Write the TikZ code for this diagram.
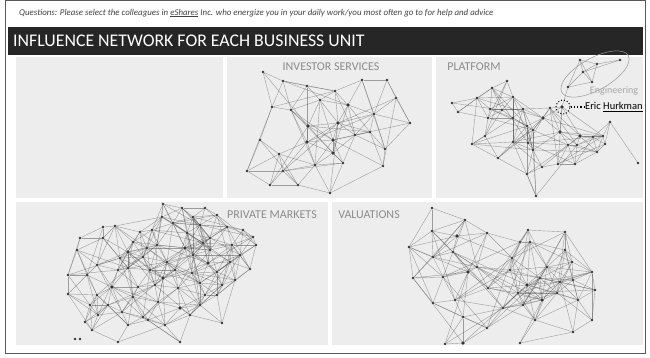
\documentclass[tikz,border=0pt]{standalone}
\usepackage{fontspec}
\setmainfont{Carlito}
\usepackage{tikz}
\usetikzlibrary{shapes.geometric}
\definecolor{panelgrey}{RGB}{237,237,237}
\definecolor{bargrey}  {RGB}{38,38,38}
\definecolor{labelgrey}{RGB}{140,140,140}

% node lists: id/x/y/weight (1 = person, 2 = hub)
\newcommand{\islist}{1/263/72/1, 2/283/81/1, 3/307/86/1, 4/335/91/1, 5/362/80/1, 6/387/80/1,
  7/396/98/1, 8/272/107/1, 9/291/110/1, 10/348/105/2, 11/374/114/1, 12/410/123/1, 13/308/126/2,
  14/338/123/2, 15/370/132/1, 16/260/140/1, 17/307/142/2, 18/333/140/2, 19/279/154/1, 20/333/153/2,
  21/385/149/1, 22/247/171/1, 23/283/171/1, 24/343/163/1, 25/383/166/1, 26/270/185/1, 27/298/185/1,
  28/330/193/1, 29/315/165/1, 30/355/135/1, 31/320/100/1}
\newcommand{\pflist}{1/452/103/1, 2/458/112/1, 3/477/98/1, 4/492/88/1, 5/507/81/1, 6/513/97/1,
  7/490/109/1, 8/502/110/1, 9/523/109/1, 10/488/118/1, 11/513/118/1, 12/543/118/2, 13/550/108/1,
  14/527/126/1, 15/533/130/1, 16/485/136/1, 17/472/144/1, 18/513/142/1, 19/528/143/1, 20/560/132/2,
  21/580/136/2, 22/593/137/1, 23/610/122/1, 24/603/136/1, 25/568/145/1, 26/577/145/1, 27/605/144/1,
  28/597/152/1, 29/533/150/1, 30/498/158/1, 31/542/167/1, 32/558/164/1, 33/575/164/1, 34/527/174/1,
  35/638/163/1, 36/536/196/1, 37/562/107/2}
\newcommand{\enlist}{1/568/87/1, 2/583/72/1, 3/580/60/1, 4/620/60/1, 5/597/64/1, 6/592/82/1}
\newcommand{\pmlist}{1/163/204/1, 2/182/208/1, 3/205/208/1, 4/162/217/1, 5/193/217/1, 6/217/215/1,
  7/173/223/1, 8/200/225/1, 9/227/227/1, 10/243/230/1, 11/253/237/1, 12/256/245/1, 13/103/227/1,
  14/115/226/1, 15/80/238/1, 16/103/238/1, 17/133/242/1, 18/152/230/1, 19/157/245/1, 20/187/233/1,
  21/210/238/1, 22/128/252/2, 23/147/248/1, 24/185/248/2, 25/203/243/1, 26/232/245/1, 27/77/250/1,
  28/97/265/1, 29/118/270/1, 30/143/257/1, 31/167/262/1, 32/193/255/1, 33/208/263/2, 34/230/262/1,
  35/250/269/1, 36/68/275/1, 37/87/275/1, 38/128/268/1, 39/163/278/2, 40/192/273/1, 41/217/272/1,
  42/112/287/2, 43/138/287/1, 44/155/285/1, 45/178/288/1, 46/200/283/1, 47/222/285/1, 48/68/294/1,
  49/97/295/1, 50/133/297/1, 51/158/302/1, 52/180/308/2, 53/200/305/1, 54/217/295/1, 55/108/305/1,
  56/122/312/1, 57/143/317/1, 58/98/315/1, 59/85/322/1, 60/148/320/1, 61/190/315/1, 62/222/323/1,
  63/92/330/1, 64/118/342/1, 65/180/342/1, 66/140/232/1, 67/120/258/1, 68/175/270/1, 69/235/280/1,
  70/150/270/1, 71/210/250/1, 72/90/305/1, 73/165/325/1, 74/205/295/1, 75/240/255/1, 76/128/325/1}
\newcommand{\valist}{1/432/208/1, 2/465/220/1, 3/432/231/1, 4/457/236/2, 5/487/233/1, 6/528/230/1,
  7/565/232/1, 8/409/247/1, 9/453/252/1, 10/433/257/1, 11/520/242/1, 12/530/242/1, 13/565/250/1,
  14/512/258/1, 15/477/267/1, 16/468/272/2, 17/510/270/1, 18/547/267/1, 19/572/262/1, 20/592/272/1,
  21/413/278/1, 22/443/277/1, 23/488/288/1, 24/527/285/2, 25/540/278/1, 26/560/282/1, 27/573/280/1,
  28/595/290/1, 29/518/293/1, 30/542/300/2, 31/557/293/1, 32/578/300/1, 33/433/303/1, 34/455/300/1,
  35/503/308/1, 36/523/305/1, 37/535/320/1, 38/463/317/1, 39/487/328/1, 40/592/320/1, 41/573/332/1,
  42/463/343/2, 43/445/344/1, 44/520/343/1}

% links: all close pairs, plus some of the farther ones
\newcommand{\linknet}[4]{%
  \foreach \ia/\xa/\ya/\wa in #2 {
    \foreach \ib/\xb/\yb/\wb in #2 {
      \ifnum\ia<\ib\relax
        \pgfmathsetmacro\dd{veclen(\xa-\xb,\ya-\yb)}
        \pgfmathtruncatemacro\hh{mod(\ia*7+\ib*13,11)}
        \ifdim\dd pt<#3pt\relax
          \draw[link] (#1\ia) -- (#1\ib);
        \else\ifdim\dd pt<#4pt\relax\ifnum\hh<2\relax
          \draw[link] (#1\ia) -- (#1\ib);
        \fi\fi\fi
      \fi}}}

\begin{document}
\begin{tikzpicture}[
  x=1pt, y=-1pt,
  panel/.style={fill=panelgrey, draw=none},
  person/.style={circle, fill=black!80, inner sep=0pt, minimum size={1.3pt+1.3pt*#1}},
  link/.style={draw=black!70, draw opacity=0.5, line width=0.4pt},
  unitlabel/.style={font=\fontsize{12}{14}\selectfont, text=labelgrey, inner sep=0pt}
]
  \useasboundingbox (0,0) rectangle (650,357);

  % Frame, header and panels
  \draw[black!65, line width=0.7pt] (5,0.5) rectangle (645,353);
  \node[anchor=west, inner sep=0pt, font=\fontsize{8.9}{10}\selectfont\itshape, text=black!75] (question) at (19,13)
    {Questions: Please select the colleagues in \underline{eShares} Inc. who energize you in your daily work/you most often go to for help and advice};
  \fill[bargrey] (8,27) rectangle (643,55);
  \node[anchor=west, inner sep=0pt, font=\fontsize{17.8}{20}\selectfont, text=white] (title) at (13,41)
    {INFLUENCE NETWORK FOR EACH BUSINESS UNIT};

  \fill[panel] (16,57) rectangle (223,198);
  \fill[panel] (227,57) rectangle (432,198);
  \fill[panel] (436,57) rectangle (643,198);
  \fill[panel] (16,202) rectangle (328,345);
  \fill[panel] (332,202) rectangle (643,345);

  \node[unitlabel] (islabel) at (331,67) {INVESTOR SERVICES};
  \node[unitlabel] (pflabel) at (474,67) {PLATFORM};
  \node[unitlabel] (pmlabel) at (272,215) {PRIVATE MARKETS};
  \node[unitlabel] (valabel) at (369,215) {VALUATIONS};

  % People
  \foreach \n/\x/\y/\w in \islist {\node[person=\w] (is\n) at (\x,\y) {};}
  \foreach \n/\x/\y/\w in \pflist {\node[person=\w] (pf\n) at (\x,\y) {};}
  \foreach \n/\x/\y/\w in \enlist {\node[person=\w] (en\n) at (\x,\y) {};}
  \foreach \n/\x/\y/\w in \pmlist {\node[person=\w] (pm\n) at (\x,\y) {};}
  \foreach \n/\x/\y/\w in \valist {\node[person=\w] (va\n) at (\x,\y) {};}
  \node[person=1] (pm77) at (75,339) {};
  \node[person=1] (pm78) at (80,339) {};

  % Links
  \linknet{is}{\islist}{38}{75}
  \linknet{pf}{\pflist}{26}{70}
  \linknet{en}{\enlist}{30}{45}
  \linknet{pm}{\pmlist}{30}{55}
  \linknet{va}{\valist}{36}{85}
  \draw[link] (pf37) -- (en1);

  % Engineering and Eric
  \node[draw=black!40, ellipse, rotate=29, minimum width=76pt, minimum height=32pt, line width=0.5pt] (engring) at (595,74) {};
  \node[font=\fontsize{10}{12}\selectfont, text=black!35, inner sep=0pt] (englabel) at (614,91) {Engineering};
  \node[draw=black, dotted, circle, line width=1pt, minimum size=14pt, inner sep=0pt] (ericring) at (563,107) {};
  \node[anchor=west, font=\fontsize{10.5}{12}\selectfont, inner sep=0pt] (eric) at (585,107) {Eric \underline{Hurkman}};
  \draw[dotted, line width=1.3pt] (ericring) -- (eric);
\end{tikzpicture}
\end{document}
